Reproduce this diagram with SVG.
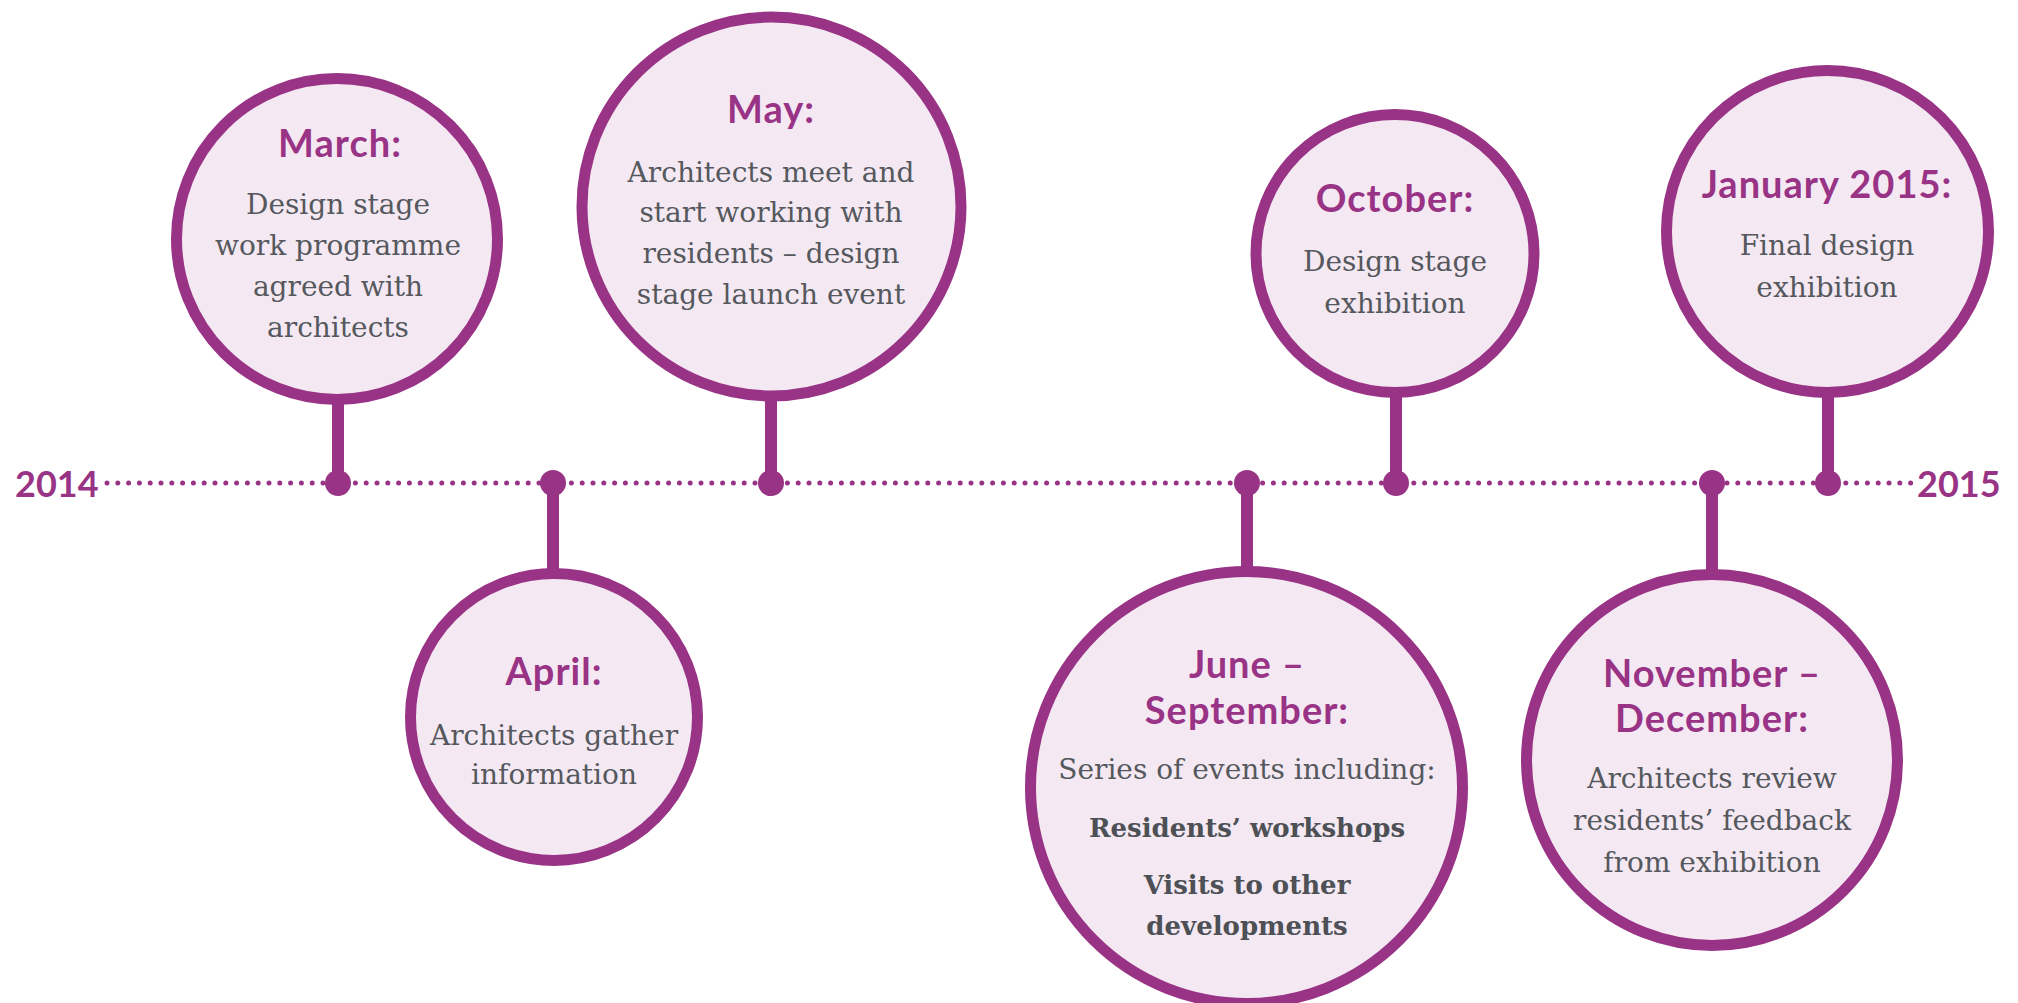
<svg xmlns="http://www.w3.org/2000/svg" width="2018" height="1003" viewBox="0 0 2018 1003">
<style>
.c{fill:#f4e9f3;stroke:#993385;stroke-width:11}
.t{font-family:Lato,"Open Sans",sans-serif;font-weight:700;font-size:38px;letter-spacing:1px;fill:#993385;text-anchor:middle}
.b{font-family:"DejaVu Serif","Liberation Serif",serif;font-size:28px;fill:#55585d;text-anchor:middle}
.bb{font-family:"DejaVu Serif","Liberation Serif",serif;font-weight:700;font-size:26px;fill:#4d5055;text-anchor:middle}
.y{font-family:Lato,"Open Sans",sans-serif;font-weight:700;font-size:36px;fill:#993385}
.stem{stroke:#993385;stroke-width:12}
.dot{fill:#993385}
</style>
<rect width="2018" height="1003" fill="#ffffff"/>
<g id="connectors">
<line x1="107" y1="483" x2="1915" y2="483" stroke="#993385" stroke-width="5" stroke-linecap="round" stroke-dasharray="0 10.8"/>
<line class="stem" x1="338" y1="400" x2="338" y2="483"/>
<line class="stem" x1="553" y1="483" x2="553" y2="572"/>
<line class="stem" x1="771" y1="398" x2="771" y2="483"/>
<line class="stem" x1="1247" y1="483" x2="1247" y2="570"/>
<line class="stem" x1="1396" y1="394" x2="1396" y2="483"/>
<line class="stem" x1="1712" y1="483" x2="1712" y2="573"/>
<line class="stem" x1="1828" y1="394" x2="1828" y2="483"/>
<circle class="dot" cx="338" cy="483" r="13"/>
<circle class="dot" cx="553" cy="483" r="13"/>
<circle class="dot" cx="771" cy="483" r="13"/>
<circle class="dot" cx="1247" cy="483" r="13"/>
<circle class="dot" cx="1396" cy="483" r="13"/>
<circle class="dot" cx="1712" cy="483" r="13"/>
<circle class="dot" cx="1828" cy="483" r="13"/>
</g>
<text class="y" x="15" y="497">2014</text>
<text class="y" x="1917" y="497">2015</text>
<g id="march">
<circle class="c" cx="337" cy="239" r="160.5"/>
<text class="t" x="340" y="157">March:</text>
<text class="b" x="338" y="214">Design stage</text>
<text class="b" x="338" y="255">work programme</text>
<text class="b" x="338" y="296">agreed with</text>
<text class="b" x="338" y="337">architects</text>
</g>
<g id="april">
<circle class="c" cx="554" cy="717" r="143.5"/>
<text class="t" x="554" y="685">April:</text>
<text class="b" x="554" y="745">Architects gather</text>
<text class="b" x="554" y="784">information</text>
</g>
<g id="may">
<circle class="c" cx="771.5" cy="206.5" r="189.5"/>
<text class="t" x="771" y="123">May:</text>
<text class="b" x="771" y="182">Architects meet and</text>
<text class="b" x="771" y="222">start working with</text>
<text class="b" x="771" y="263">residents – design</text>
<text class="b" x="771" y="304">stage launch event</text>
</g>
<g id="june-september">
<circle class="c" cx="1246.5" cy="787.5" r="216"/>
<text class="t" x="1247" y="678">June –</text>
<text class="t" x="1247" y="724">September:</text>
<text class="b" x="1247" y="779">Series of events including:</text>
<text class="bb" x="1247" y="837">Residents’ workshops</text>
<text class="bb" x="1247" y="894">Visits to other</text>
<text class="bb" x="1247" y="935">developments</text>
</g>
<g id="october">
<circle class="c" cx="1395" cy="253.5" r="139"/>
<text class="t" x="1395" y="212">October:</text>
<text class="b" x="1395" y="271">Design stage</text>
<text class="b" x="1395" y="313">exhibition</text>
</g>
<g id="november-december">
<circle class="c" cx="1712" cy="760" r="185.5"/>
<text class="t" x="1712" y="687">November –</text>
<text class="t" x="1712" y="732">December:</text>
<text class="b" x="1712" y="788">Architects review</text>
<text class="b" x="1712" y="830">residents’ feedback</text>
<text class="b" x="1712" y="872">from exhibition</text>
</g>
<g id="january-2015">
<circle class="c" cx="1827.5" cy="231.5" r="161"/>
<text class="t" x="1827" y="198">January 2015:</text>
<text class="b" x="1827" y="255">Final design</text>
<text class="b" x="1827" y="297">exhibition</text>
</g>
</svg>
